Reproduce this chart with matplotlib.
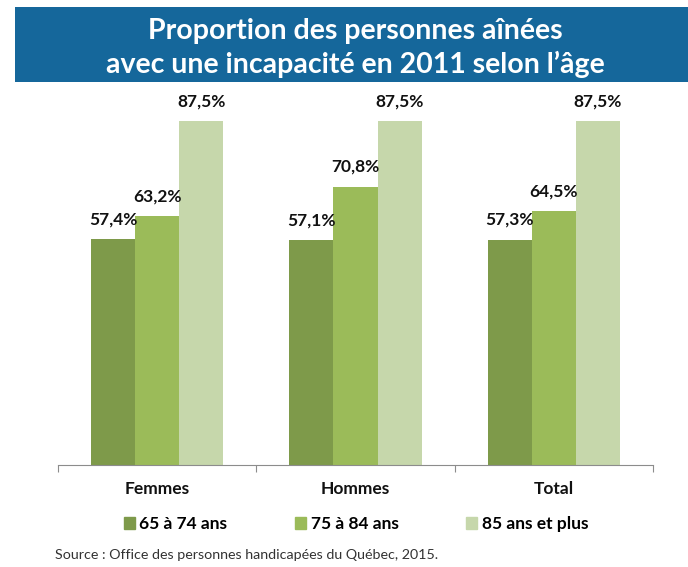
import matplotlib
matplotlib.use("Agg")
import matplotlib.pyplot as plt
from matplotlib.patches import Rectangle, Patch
import numpy as np

plt.rcParams['font.family'] = ['Lato', 'DejaVu Sans']

# data
categories = ["Femmes", "Hommes", "Total"]
series_names = ["65 à 74 ans", "75 à 84 ans", "85 ans et plus"]
vals_65_74 = [57.4, 57.1, 57.3]
vals_75_84 = [63.2, 70.8, 64.5]
vals_85_plus = [87.5, 87.5, 87.5]
colors = ["#7E9A4A", "#9BBB59", "#C6D7AB"]

fig = plt.figure(figsize=(6.88, 5.67), dpi=100)
W, H = 688, 567

# title banner
fig.patches.append(Rectangle((15 / W, 1 - 82 / H), (W - 15) / W, 75 / H,
                             transform=fig.transFigure, facecolor="#15679B",
                             edgecolor="none", zorder=0))
fig.text(355 / W, 1 - 39.5 / H, "Proportion des personnes aînées", color="white",
         fontsize=20.5, fontweight="bold", ha="center", va="baseline")
fig.text(355 / W, 1 - 72.5 / H, "avec une incapacité en 2011 selon l’âge", color="white",
         fontsize=20.5, fontweight="bold", ha="center", va="baseline")

ax = fig.add_axes([58 / W, (H - 464.5) / H, 595 / W, 353.3 / H])
x = np.arange(len(categories))
bw = 0.222
for i, (vals, name) in enumerate(zip([vals_65_74, vals_75_84, vals_85_plus], series_names)):
    bars = ax.bar(x + (i - 1) * bw, vals, bw, color=colors[i], label=name, zorder=2)
    for b, v in zip(bars, vals):
        ax.annotate(f"{v:.1f}%".replace(".", ","), (b.get_x() + b.get_width() / 2, v),
                    xytext=(0, 10.5), textcoords="offset points", ha="center",
                    va="baseline", fontsize=12.5, fontweight="bold", color="#111111",
                    annotation_clip=False)

ax.set_xlim(-0.5, 2.5)
ax.set_ylim(0, 90)
ax.set_yticks([])
for s in ["top", "right", "left"]:
    ax.spines[s].set_visible(False)
ax.spines["bottom"].set_color("#8C8C8C")
ax.set_xticks([-0.5, 0.5, 1.5, 2.5])
ax.set_xticklabels([])
ax.tick_params(axis="x", length=5, color="#8C8C8C")
for xi, cat in zip(x, categories):
    ax.text(xi, -0.068, cat, transform=ax.get_xaxis_transform(), ha="center",
            va="center", fontsize=12.5, fontweight="bold", color="#111111")

handles = [Patch(color=c) for c in colors]
leg = fig.legend(handles, series_names, loc="center left", bbox_to_anchor=(108 / W, 1 - 524 / H),
                 ncol=3, frameon=False, handlelength=0.65, handleheight=0.65,
                 handletextpad=0.25, columnspacing=3.9,
                 prop={"weight": "bold", "size": 12.5})

fig.text(55 / W, 1 - 555 / H, "Source : Office des personnes handicapées du Québec, 2015.",
         fontsize=10.3, color="#333333", ha="left", va="center")

fig.savefig("out.png", dpi=100)
